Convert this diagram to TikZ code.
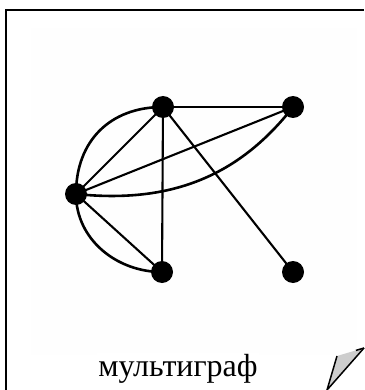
\documentclass[tikz,border=0pt]{standalone}
\usepackage{fontspec}
\setmainfont{Liberation Serif}
\usetikzlibrary{calc}
\begin{document}
\begin{tikzpicture}[x=1pt,y=1pt,
  vtx/.style={circle,fill=black,minimum size=22pt,inner sep=0pt},
  edge/.style={line width=2.1pt},
  cedge/.style={line width=2.6pt}]
\useasboundingbox (0,0) rectangle (364,-390);
\definecolor{faint}{RGB}{254,254,254}
\definecolor{fold}{RGB}{205,205,205}
\fill[faint] (31,-28) rectangle (357,-355);
\draw[line width=2.2pt] (6,-390) -- (6,-10) -- (364,-10);
\node[vtx] (A) at (163,-107) {};
\node[vtx] (B) at (293,-107) {};
\node[vtx] (C) at (76,-194) {};
\node[vtx] (D) at (162,-272) {};
\node[vtx] (E) at (293,-272) {};
\draw[edge] (A) -- (B);
\draw[edge] (A.center) -- (C.center);
\draw[edge] (A.center) -- (D.center);
\draw[edge] (A.center) -- (E.center);
\draw[edge] (C.center) -- (B.center);
\draw[edge] (C.center) -- (D.center);
\draw[cedge] (A.center) to[out=180,in=90,looseness=1.1] (C.center);
\draw[cedge] (C.center) to[out=-90,in=180] (D.center);
\draw[cedge] (C.center) to[out=-6,in=-128] (B.center);
\node[font=\fontsize{32}{34}\selectfont,anchor=base,fill=white,inner sep=1pt] (T) at (178,-376) {мультиграф};
\coordinate (F1) at (337,-356);
\coordinate (F2) at (364,-348);
\coordinate (F3) at (327,-390);
\fill[fold] (F1) -- (F2) -- (F3) -- cycle;
\draw[line width=1.5pt] (F1) -- (F3) -- (F2);
\draw[line width=1.5pt] (F2) -- ($(F2)!0.3!(F1)$);
\end{tikzpicture}
\end{document}
